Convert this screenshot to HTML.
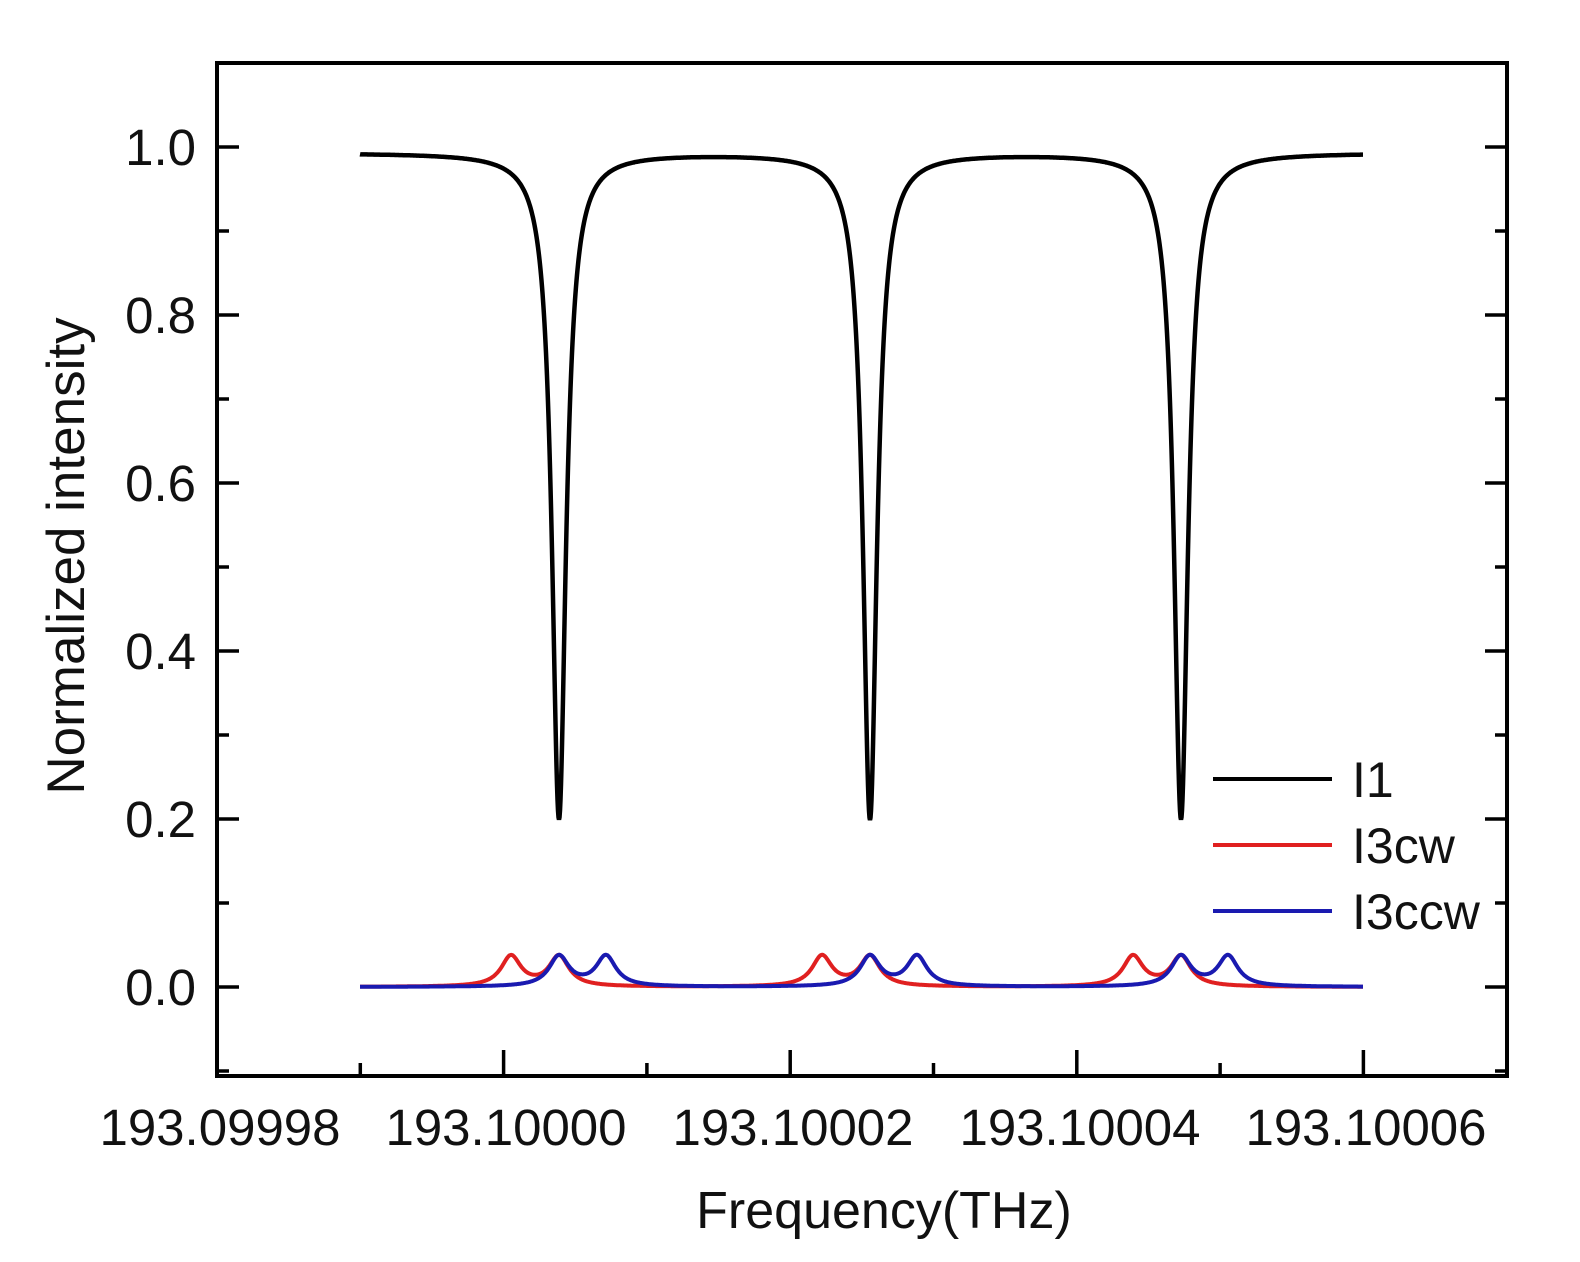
<!DOCTYPE html>
<html><head><meta charset="utf-8"><style>
html,body{margin:0;padding:0;background:#fff;}
svg{display:block;font-family:"Liberation Sans",Arial,sans-serif;}
</style></head><body>
<svg id="s" width="1580" height="1262" xmlns="http://www.w3.org/2000/svg">
<rect width="1580" height="1262" fill="#fff"/>
<g id="ticks" stroke="#000" stroke-width="3.5"></g>
<path id="red" fill="none" stroke="#e02020" stroke-width="4"/>
<path id="blue" fill="none" stroke="#1a1ab0" stroke-width="4"/>
<path id="black" fill="none" stroke="#000" stroke-width="4.5"/>
<rect x="217" y="63" width="1290" height="1013" fill="none" stroke="#000" stroke-width="4"/>
<g font-size="51" fill="#111" text-anchor="end">
<text x="196" y="165">1.0</text>
<text x="196" y="333">0.8</text>
<text x="196" y="501">0.6</text>
<text x="196" y="669">0.4</text>
<text x="196" y="837">0.2</text>
<text x="196" y="1005">0.0</text>
</g>
<g font-size="51" fill="#111" text-anchor="middle">
<text x="220" y="1145">193.09998</text>
<text x="506" y="1145">193.10000</text>
<text x="793" y="1145">193.10002</text>
<text x="1080" y="1145">193.10004</text>
<text x="1366" y="1145">193.10006</text>
<text x="884" y="1228" font-size="52">Frequency(THz)</text>
<text transform="translate(84,556) rotate(-90)" font-size="53">Normalized intensity</text>
</g>
<g stroke-width="4">
<line x1="1213" y1="779" x2="1332" y2="779" stroke="#000"/>
<line x1="1213" y1="845" x2="1332" y2="845" stroke="#e02020"/>
<line x1="1213" y1="911" x2="1332" y2="911" stroke="#1a1ab0"/>
</g>
<g font-size="50" fill="#111">
<text x="1352" y="797">I1</text>
<text x="1352" y="863">I3cw</text>
<text x="1352" y="929">I3ccw</text>
</g>
</svg>
<script>
var Y=function(v){return 987-v*840;};
var t=document.getElementById('ticks'),h='';
for(var i=-1;i<=11;i++){var y=Y(i/10);if(y<66||y>1073)continue;var L=(i%2==0)?22:12;
h+='<line x1="217" y1="'+y+'" x2="'+(217+L)+'" y2="'+y+'"/><line x1="1507" y1="'+y+'" x2="'+(1507-L)+'" y2="'+y+'"/>';}
for(var k=0;k<=9;k++){var x=217+k*143.3;if(x<220||x>1504)continue;var L=(k%2==0)?26:13;
h+='<line x1="'+x+'" y1="1076" x2="'+x+'" y2="'+(1076-L)+'"/>';}
t.innerHTML=h;
var cs=[559,870,1181],pb='',pr='',pu='';
function lor(x,c,g){var d=(x-c)/g;return 1/(1+d*d);}
for(var x=360;x<=1363;x+=0.5){
 var b=0.993,r=0,u=0;
 for(var j=0;j<3;j++){var c=cs[j];b-=0.793*lor(x,c,8.5);
  r+=0.036*lor(x,c-48,12)+0.036*lor(x,c,12);
  u+=0.036*lor(x,c,12)+0.036*lor(x,c+47,12);}
 var cmd=(x==360?'M':'L');
 pb+=cmd+x+' '+Y(b).toFixed(1);pr+=cmd+x+' '+Y(r).toFixed(1);pu+=cmd+x+' '+Y(u).toFixed(1);}
document.getElementById('black').setAttribute('d',pb);
document.getElementById('red').setAttribute('d',pr);
document.getElementById('blue').setAttribute('d',pu);
</script>
</body></html>
